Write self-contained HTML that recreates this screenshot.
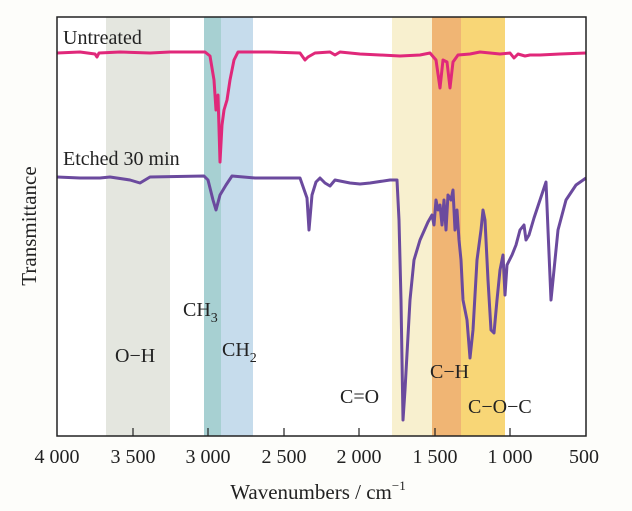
<!DOCTYPE html>
<html><head><meta charset="utf-8"><style>
html,body{margin:0;padding:0;background:#fff;}
svg{display:block;font-family:"Liberation Serif",serif;}
</style></head><body>
<svg width="632" height="511" viewBox="0 0 632 511" xmlns="http://www.w3.org/2000/svg">
<rect x="0" y="0" width="632" height="511" fill="#fdfdfa"/>
<rect x="57" y="17" width="529" height="419" fill="#fff"/>
<rect x="106" y="17" width="64" height="419" fill="#e4e6df"/>
<rect x="204" y="17" width="17" height="419" fill="#a7d0d2"/>
<rect x="221" y="17" width="32" height="419" fill="#c6dcec"/>
<rect x="392" y="17" width="40" height="419" fill="#f8f0cf"/>
<rect x="432" y="17" width="29" height="419" fill="#f0b574"/>
<rect x="461" y="17" width="44" height="419" fill="#f8d676"/>
<polyline fill="none" stroke="#e0287a" stroke-width="3" stroke-linejoin="round" points="57,53 80,52 95,54 97,57 99,53 120,52 150,53 170,52 205,52 210,56 214,80 216,110 218,95 220,162 222,125 224,110 227,100 230,80 234,60 238,52 270,52 300,53 305,60 308,57 315,53 330,52 335,55 340,52 350,53 360,54 380,55 400,56 420,55 430,53 436,60 440,88 443,60 447,62 450,88 453,62 458,55 470,54 480,52 490,53 500,54 510,53 514,58 518,54 525,56 530,55 540,55 560,54 586,53"/>
<polyline fill="none" stroke="#6b4a9e" stroke-width="3" stroke-linejoin="round" points="57,177 80,178 100,178 110,177 130,180 140,183 150,177 204,176 208,180 213,200 216,210 220,195 226,185 232,176 255,178 300,178 307,198 309,230 312,195 316,182 320,178 325,183 330,186 335,180 340,181 350,183 360,184 370,183 390,180 397,180 399,220 401,300 403,420 405,390 410,300 414,260 420,240 428,222 432,215 434,225 436,200 438,210 440,205 442,225 444,200 446,230 448,195 451,200 453,190 455,230 457,210 459,240 461,260 463,300 467,320 470,358 473,330 477,260 481,230 483,210 485,220 488,280 491,330 494,333 497,300 500,270 503,255 505,295 507,265 512,255 516,245 520,230 524,225 526,240 529,235 534,218 540,200 546,182 548,230 551,300 554,270 558,230 566,200 576,185 586,178"/>
<rect x="57" y="17" width="529" height="419" fill="none" stroke="#222" stroke-width="1.5"/>
<g stroke="#222" stroke-width="1.2">
<line x1="133" y1="436" x2="133" y2="428"/><line x1="208" y1="436" x2="208" y2="428"/><line x1="284" y1="436" x2="284" y2="428"/><line x1="359" y1="436" x2="359" y2="428"/><line x1="435" y1="436" x2="435" y2="428"/><line x1="510" y1="436" x2="510" y2="428"/>
</g>
<g font-size="20" fill="#222" text-anchor="middle">
<text x="57" y="463">4 000</text><text x="133" y="463">3 500</text><text x="208" y="463">3 000</text><text x="284" y="463">2 500</text><text x="359" y="463">2 000</text><text x="435" y="463">1 500</text><text x="510" y="463">1 000</text><text x="584" y="463">500</text>
<text x="318" y="499" font-size="21">Wavenumbers / cm<tspan font-size="13" dy="-9">−1</tspan></text>
</g>
<text x="0" y="0" transform="translate(36,226) rotate(-90)" font-size="21" fill="#222" text-anchor="middle">Transmittance</text>
<g font-size="20" fill="#222">
<text x="63" y="44">Untreated</text>
<text x="63" y="165">Etched 30 min</text>
<text x="183" y="316">CH<tspan font-size="14" dy="6">3</tspan></text>
<text x="115" y="362">O−H</text>
<text x="222" y="356">CH<tspan font-size="14" dy="6">2</tspan></text>
<text x="340" y="403">C=O</text>
<text x="430" y="378">C−H</text>
<text x="468" y="413">C−O−C</text>
</g>
</svg>
</body></html>
